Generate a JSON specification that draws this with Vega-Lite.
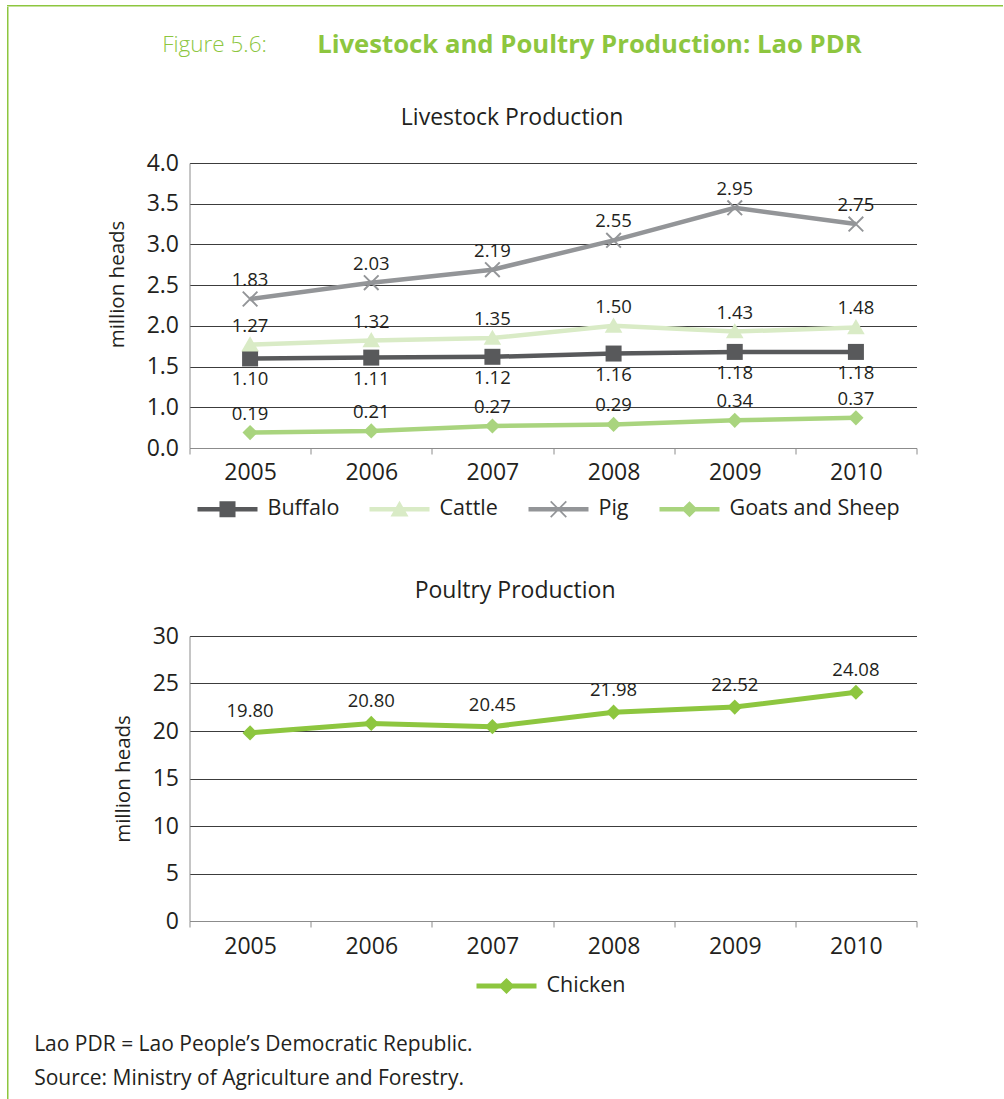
{
  "$schema": "https://vega.github.io/schema/vega-lite/v6.json",
  "background": "white",
  "padding": {"left": 7, "top": 5, "right": 0, "bottom": 0},
  "config": {
    "font": "Open Sans",
    "view": {"stroke": null},
    "axis": {"labelColor": "#231f20", "titleColor": "#231f20"},
    "legend": {"labelColor": "#231f20"},
    "title": {"color": "#231f20"}
  },
  "datasets": {
    "livestock": [
      {"year": "2005", "series": "Buffalo", "value": 1.10},
      {"year": "2006", "series": "Buffalo", "value": 1.11},
      {"year": "2007", "series": "Buffalo", "value": 1.12},
      {"year": "2008", "series": "Buffalo", "value": 1.16},
      {"year": "2009", "series": "Buffalo", "value": 1.18},
      {"year": "2010", "series": "Buffalo", "value": 1.18},
      {"year": "2005", "series": "Cattle", "value": 1.27},
      {"year": "2006", "series": "Cattle", "value": 1.32},
      {"year": "2007", "series": "Cattle", "value": 1.35},
      {"year": "2008", "series": "Cattle", "value": 1.50},
      {"year": "2009", "series": "Cattle", "value": 1.43},
      {"year": "2010", "series": "Cattle", "value": 1.48},
      {"year": "2005", "series": "Pig", "value": 1.83},
      {"year": "2006", "series": "Pig", "value": 2.03},
      {"year": "2007", "series": "Pig", "value": 2.19},
      {"year": "2008", "series": "Pig", "value": 2.55},
      {"year": "2009", "series": "Pig", "value": 2.95},
      {"year": "2010", "series": "Pig", "value": 2.75},
      {"year": "2005", "series": "Goats and Sheep", "value": 0.19},
      {"year": "2006", "series": "Goats and Sheep", "value": 0.21},
      {"year": "2007", "series": "Goats and Sheep", "value": 0.27},
      {"year": "2008", "series": "Goats and Sheep", "value": 0.29},
      {"year": "2009", "series": "Goats and Sheep", "value": 0.34},
      {"year": "2010", "series": "Goats and Sheep", "value": 0.37}
    ],
    "poultry": [
      {"year": "2005", "series": "Chicken", "value": 19.80},
      {"year": "2006", "series": "Chicken", "value": 20.80},
      {"year": "2007", "series": "Chicken", "value": 20.45},
      {"year": "2008", "series": "Chicken", "value": 21.98},
      {"year": "2009", "series": "Chicken", "value": 22.52},
      {"year": "2010", "series": "Chicken", "value": 24.08}
    ]
  },
  "spacing": 0,
  "vconcat": [
    {
      "width": 996, "height": 1.5,
      "data": {"values": []},
      "mark": "point",
      "encoding": {},
      "view": {"fill": "#8dc63f", "stroke": null}
    },
    {
      "spacing": 24.5,
      "hconcat": [
        {
          "width": 1.5, "height": 1092,
          "data": {"values": []},
          "mark": "point",
          "encoding": {},
          "view": {"fill": "#8dc63f", "stroke": null}
        },
        {
          "title": {
            "text": ["Lao PDR = Lao People’s Democratic Republic.", "Source: Ministry of Agriculture and Forestry."],
            "orient": "bottom", "anchor": "start", "fontSize": 21, "fontWeight": "normal",
            "lineHeight": 34, "offset": 37, "dx": -73, "color": "#231f20"
          },
          "spacing": 0,
          "vconcat": [
            {
              "width": 1, "height": 24.5,
              "data": {"values": []},
              "mark": "point",
              "encoding": {}
            },
            {
              "title": {"text": "Figure 5.6:", "anchor": "start", "fontSize": 22.5, "fontWeight": 300, "color": "#8dc63f", "dx": 55, "dy": 24, "offset": 0},
              "vconcat": [
                {
                  "title": {"text": "Livestock and Poultry Production: Lao PDR", "anchor": "start", "fontSize": 25.7, "fontWeight": "bold", "color": "#8dc63f", "dx": 210, "offset": 48},
                  "spacing": 60,
                  "resolve": {"scale": {"color": "independent"}, "legend": {"color": "independent"}},
                  "vconcat": [
                    {
                      "title": {"text": "Livestock Production", "fontSize": 23, "fontWeight": "normal", "offset": 22, "frame": "bounds"},
                      "width": 727,
                      "height": 285,
                      "data": {"name": "livestock"},
                      "encoding": {
                        "x": {
                          "field": "year", "type": "ordinal",
                          "scale": {"type": "band", "paddingInner": 0, "paddingOuter": 0},
                          "axis": {"title": null, "labelAngle": 0, "tickBand": "extent", "tickSize": 6, "tickColor": "#8c8c8c", "domainColor": "#8c8c8c", "labelFontSize": 23, "labelPadding": 7, "grid": false}
                        },
                        "y": {
                          "field": "value", "type": "quantitative",
                          "scale": {"domain": [0, 3.5], "nice": false},
                          "axis": {
                            "values": [0, 0.5, 1, 1.5, 2, 2.5, 3, 3.5],
                            "labelExpr": "datum.value == 0 ? '0.0' : format(datum.value + 0.5, '.1f')",
                            "title": "million heads", "titleFontSize": 20.5, "titleFontWeight": "normal", "titlePadding": 19, "titleY": 121,
                            "grid": true, "gridColor": "#3c3c3c", "gridWidth": 1, "ticks": false,
                            "domainColor": "#8c8c8c", "labelFontSize": 23, "labelPadding": 11
                          }
                        }
                      },
                      "layer": [
                        {
                          "mark": {"type": "line", "strokeWidth": 4.5},
                          "encoding": {
                            "color": {
                              "field": "series", "type": "nominal",
                              "scale": {"domain": ["Buffalo", "Cattle", "Pig", "Goats and Sheep"], "range": ["#58595b", "#d9ebc6", "#939598", "#a9d47e"]},
                              "legend": {
                                "title": null, "orient": "none", "direction": "horizontal", "columns": 4,
                                "legendX": 8, "legendY": 316, "padding": 0, "columnPadding": 30, "labelLimit": 400,
                                "labelFontSize": 21.5, "labelOffset": 10, "symbolSize": 3600,
                                "encode": {
                                  "symbols": {
                                    "update": {
                                      "shape": {"signal": "datum.value === 'Buffalo' ? 'M-1,-0.075H1V0.075H-1Z M-0.267,-0.267H0.267V0.267H-0.267Z' : datum.value === 'Cattle' ? 'M-1,-0.075H1V0.075H-1Z M0,-0.28L0.3,0.24H-0.3Z' : datum.value === 'Pig' ? 'M-1,-0.075H1V0.075H-1Z M-0.28,-0.24L-0.24,-0.28L0.28,0.24L0.24,0.28Z M0.28,-0.24L-0.24,0.28L-0.28,0.24L0.24,-0.28Z' : 'M-1,-0.075H1V0.075H-1Z M0,-0.27L0.27,0L0,0.27L-0.27,0Z'"},
                                      "fill": {"signal": "datum.value === 'Buffalo' ? '#58595b' : datum.value === 'Cattle' ? '#d9ebc6' : datum.value === 'Pig' ? '#939598' : '#a9d47e'"},
                                      "stroke": {"value": "transparent"},
                                      "strokeWidth": {"value": 0},
                                      "opacity": {"value": 1},
                                      "fillOpacity": {"value": 1}
                                    }
                                  }
                                }
                              }
                            }
                          }
                        },
                        {
                          "transform": [{"filter": "datum.series === 'Buffalo'"}],
                          "mark": {"type": "point", "filled": true, "opacity": 1, "size": 256, "strokeWidth": 0, "color": "#58595b", "shape": "M-1,-1H1V1H-1Z"}
                        },
                        {
                          "transform": [{"filter": "datum.series === 'Cattle'"}],
                          "mark": {"type": "point", "filled": true, "opacity": 1, "size": 256, "strokeWidth": 0, "color": "#d9ebc6", "shape": "M0,-1.05L1.1,0.85H-1.1Z"}
                        },
                        {
                          "transform": [{"filter": "datum.series === 'Pig'"}],
                          "mark": {"type": "point", "filled": true, "opacity": 1, "size": 256, "strokeWidth": 0, "color": "#939598", "shape": "M-1,-0.83L-0.83,-1L1,0.83L0.83,1Z M1,-0.83L-0.83,1L-1,0.83L0.83,-1Z"}
                        },
                        {
                          "transform": [{"filter": "datum.series === 'Goats and Sheep'"}],
                          "mark": {"type": "point", "filled": true, "opacity": 1, "size": 256, "strokeWidth": 0, "color": "#a9d47e", "shape": "M0,-0.95L0.95,0L0,0.95L-0.95,0Z"}
                        },
                        {
                          "transform": [{"filter": "datum.series !== 'Buffalo'"}],
                          "mark": {"type": "text", "fontSize": 18.5, "dy": -19, "color": "#231f20"},
                          "encoding": {"text": {"field": "value", "type": "quantitative", "format": ".2f"}}
                        },
                        {
                          "transform": [{"filter": "datum.series === 'Buffalo'"}],
                          "mark": {"type": "text", "fontSize": 18.5, "dy": 21, "color": "#231f20"},
                          "encoding": {"text": {"field": "value", "type": "quantitative", "format": ".2f"}}
                        }
                      ]
                    },
                    {
                      "title": {"text": "Poultry Production", "fontSize": 23, "fontWeight": "normal", "offset": 22, "frame": "bounds"},
                      "width": 727,
                      "height": 285,
                      "data": {"name": "poultry"},
                      "encoding": {
                        "x": {
                          "field": "year", "type": "ordinal",
                          "scale": {"type": "band", "paddingInner": 0, "paddingOuter": 0},
                          "axis": {"title": null, "labelAngle": 0, "tickBand": "extent", "tickSize": 6, "tickColor": "#8c8c8c", "domainColor": "#8c8c8c", "labelFontSize": 23, "labelPadding": 8, "grid": false}
                        },
                        "y": {
                          "field": "value", "type": "quantitative",
                          "scale": {"domain": [0, 30], "nice": false},
                          "axis": {
                            "values": [0, 5, 10, 15, 20, 25, 30],
                            "title": "million heads", "titleFontSize": 20.5, "titleFontWeight": "normal", "titlePadding": 19,
                            "grid": true, "gridColor": "#3c3c3c", "gridWidth": 1, "ticks": false,
                            "domainColor": "#8c8c8c", "labelFontSize": 23, "labelPadding": 11
                          }
                        }
                      },
                      "layer": [
                        {
                          "mark": {"type": "line", "strokeWidth": 5},
                          "encoding": {
                            "color": {
                              "field": "series", "type": "nominal",
                              "scale": {"domain": ["Chicken"], "range": ["#8dc63f"]},
                              "legend": {
                                "title": null, "orient": "none", "direction": "horizontal",
                                "legendX": 287, "legendY": 320, "padding": 0, "labelLimit": 400,
                                "labelFontSize": 21.5, "labelOffset": 10, "symbolSize": 3600,
                                "encode": {
                                  "symbols": {
                                    "update": {
                                      "shape": {"value": "M-1,-0.08H1V0.08H-1Z M0,-0.27L0.27,0L0,0.27L-0.27,0Z"},
                                      "fill": {"value": "#8dc63f"},
                                      "stroke": {"value": "transparent"},
                                      "strokeWidth": {"value": 0},
                                      "opacity": {"value": 1},
                                      "fillOpacity": {"value": 1}
                                    }
                                  }
                                }
                              }
                            }
                          }
                        },
                        {
                          "mark": {"type": "point", "filled": true, "opacity": 1, "size": 256, "strokeWidth": 0, "shape": "M0,-0.95L0.95,0L0,0.95L-0.95,0Z", "color": "#8dc63f"}
                        },
                        {
                          "mark": {"type": "text", "fontSize": 18.5, "dy": -22, "color": "#231f20"},
                          "encoding": {"text": {"field": "value", "type": "quantitative", "format": ".2f"}}
                        }
                      ]
                    }
                  ]
                }
              ]
            }
          ]
        }
      ]
    }
  ]
}
